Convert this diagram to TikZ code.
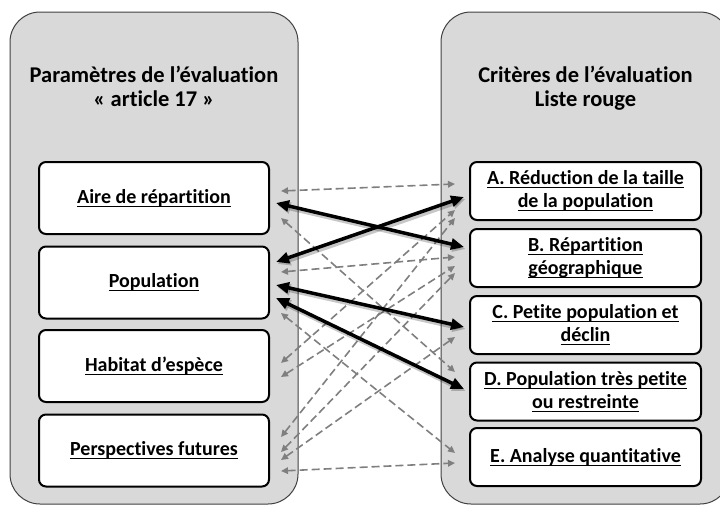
\documentclass[tikz,border=0pt]{standalone}
\usepackage{fontspec}
\setmainfont{Carlito}[Ligatures=NoCommon]
\usetikzlibrary{arrows.meta}
\definecolor{panelgray}{HTML}{D9D9D9}
\definecolor{linegray}{HTML}{7F7F7F}
\newsavebox\ulbox
\newcommand\ulx[1]{\sbox\ulbox{#1}\rlap{\rule[-3.8pt]{\wd\ulbox}{1.4pt}}\usebox\ulbox}
\begin{document}
\begin{tikzpicture}[x=1pt,y=-1pt,
 panel/.style={draw=black!75, line width=1pt, fill=panelgray, rounded corners=30pt},
 lbox/.style={draw=black, line width=2pt, fill=white, rounded corners=7pt, minimum width=230pt, minimum height=72pt, font=\bfseries\fontsize{20}{23}\selectfont, align=center, inner sep=0pt},
 rbox/.style={lbox, minimum width=231pt, minimum height=58pt},
 title/.style={font=\bfseries\fontsize{22.5}{25}\selectfont, anchor=base, inner sep=0pt},
 strong/.style={line width=3.5pt, draw=black, {Triangle[length=13pt,width=11pt]}-{Triangle[length=13pt,width=11pt]},
   preaction={draw=black, opacity=0.22, line width=5pt, transform canvas={shift={(1.5pt,-2pt)}}}},
 weak/.style={line width=1.6pt, draw=linegray, dash pattern=on 8pt off 4pt, {Triangle[length=7pt,width=6.5pt]}-{Triangle[length=7pt,width=6.5pt]}},
]
\useasboundingbox (0,0) rectangle (720,506);
\clip (0,0) rectangle (720,506);
\draw[panel] (10,12) rectangle (298,504);
\draw[panel] (441,12) rectangle (730,504);

\node[title] (t1) at (154,82.7) {Paramètres de l’évaluation};
\node[title] (t2) at (154,106) {«~article 17~»};
\node[title] (t3) at (585.5,82.7) {Critères de l’évaluation};
\node[title] (t4) at (585.5,106) {Liste rouge};

\node[lbox] (aire) at (154,198) {\ulx{Aire de répartition}};
\node[lbox] (pop) at (154,282.5) {\ulx{Population}};
\node[lbox] (hab) at (154,366) {\ulx{Habitat d’espèce}};
\node[lbox] (persp) at (154,450.5) {\ulx{Perspectives futures}};

\node[rbox] (ca) at (585.5,191) {\ulx{A. Réduction de la taille}\\\ulx{de la population}};
\node[rbox] (cb) at (585.5,258) {\ulx{B. Répartition}\\\ulx{géographique}};
\node[rbox] (cc) at (585.5,325) {\ulx{C. Petite population et}\\\ulx{déclin}};
\node[rbox] (cd) at (585.5,391.5) {\ulx{D. Population très petite}\\\ulx{ou restreinte}};
\node[rbox] (ce) at (585.5,457) {\ulx{E. Analyse quantitative}};

\draw[weak] ([shift={(11,-7)}]aire.east) -- ([shift={(-14,-7)}]ca.west);
\draw[weak] ([shift={(11,20)}]aire.east) -- ([shift={(-14,-19.5)}]cd.west);
\draw[weak] ([shift={(11,-10.5)}]pop.east) -- ([shift={(-14,-1)}]cb.west);
\draw[weak] ([shift={(11,30.5)}]pop.east) -- ([shift={(-14,-4)}]ce.west);
\draw[weak] ([shift={(11,-3)}]hab.east) -- ([shift={(-14,19)}]ca.west);
\draw[weak] ([shift={(11,11)}]hab.east) -- ([shift={(-14,8)}]cb.west);
\draw[weak] ([shift={(11,-13.5)}]persp.east) -- ([shift={(-14,27)}]ca.west);
\draw[weak] ([shift={(11,1.5)}]persp.east) -- ([shift={(-14,15)}]cb.west);
\draw[weak] ([shift={(11,9.5)}]persp.east) -- ([shift={(-14,12)}]cc.west);
\draw[weak] ([shift={(11,20.5)}]persp.east) -- ([shift={(-14,6)}]ce.west);

\draw[strong] ([shift={(6,5)}]aire.east) -- ([shift={(-5,-11)}]cb.west);
\draw[strong] ([shift={(6,-20.5)}]pop.east) -- ([shift={(-5,6)}]ca.west);
\draw[strong] ([shift={(6,2.5)}]pop.east) -- ([shift={(-5,2)}]cc.west);
\draw[strong] ([shift={(6,15.5)}]pop.east) -- ([shift={(-5,-2.5)}]cd.west);
\end{tikzpicture}
\end{document}
